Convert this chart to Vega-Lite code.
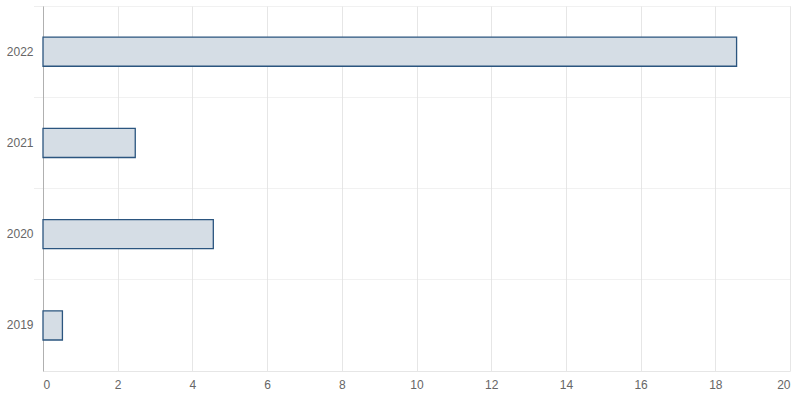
{
  "$schema": "https://vega.github.io/schema/vega-lite/v6.json",
  "width": 747,
  "height": 365,
  "autosize": {"type": "none"},
  "padding": {"left": 43, "top": 6, "right": 9, "bottom": 28},
  "background": "white",
  "config": {
    "view": {"stroke": null},
    "font": "Liberation Sans"
  },
  "data": {
    "values": [
      {"year": "2019", "value": 0.52},
      {"year": "2020", "value": 4.56},
      {"year": "2021", "value": 2.47},
      {"year": "2022", "value": 18.57}
    ]
  },
  "mark": {
    "type": "bar",
    "height": {"band": 0.32},
    "fill": "#d5dde5",
    "stroke": "#2b557f",
    "strokeWidth": 1.3
  },
  "encoding": {
    "y": {
      "field": "year",
      "type": "ordinal",
      "sort": "descending",
      "scale": {"paddingInner": 0, "paddingOuter": 0},
      "axis": {
        "title": null,
        "bandPosition": 0,
        "grid": true,
        "gridColor": "#e3e3e3",
        "gridDash": [1, 1],
        "ticks": true,
        "tickSize": 10,
        "tickColor": "#dddddd",
        "tickDash": [1, 1],
        "domainColor": "#b0b0b0",
        "labelColor": "#666666",
        "labelFontSize": 12,
        "labelPadding": 0,
        "labelBaseline": "middle",
        "labelAlign": "right"
      }
    },
    "x": {
      "field": "value",
      "type": "quantitative",
      "scale": {"domain": [0, 20], "nice": false},
      "axis": {
        "title": null,
        "values": [0, 2, 4, 6, 8, 10, 12, 14, 16, 18, 20],
        "grid": true,
        "gridColor": "#e6e6e6",
        "ticks": false,
        "domainColor": "#e6e6e6",
        "labelColor": "#666666",
        "labelFontSize": 12,
        "labelPadding": 8
      }
    }
  }
}
